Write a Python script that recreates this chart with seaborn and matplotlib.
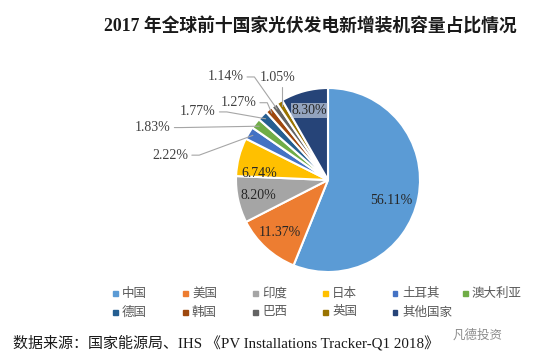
import matplotlib
matplotlib.use("Agg")
import numpy as np
import matplotlib.pyplot as plt
import seaborn as sns
from matplotlib.patches import Rectangle

# data
countries = ["中国", "美国", "印度", "日本", "土耳其", "澳大利亚",
             "德国", "韩国", "巴西", "英国", "其他国家"]
shares = [56.11, 11.37, 8.20, 6.74, 2.22, 1.83, 1.77, 1.27, 1.14, 1.05, 8.30]
colors = ["#5B9BD5", "#ED7D31", "#A5A5A5", "#FFC000", "#4472C4", "#70AD47",
          "#255E91", "#9E480E", "#636363", "#997300", "#264478"]

title = "2017 年全球前十国家光伏发电新增装机容量占比情况"
source = "数据来源：国家能源局、IHS 《PV Installations Tracker-Q1 2018》"

sns.set_theme(style="white")
plt.rcParams["font.family"] = ["Liberation Serif", "Noto Sans CJK SC", "DejaVu Sans"]

W, H = 545, 359
fig = plt.figure(figsize=(W / 100, H / 100), dpi=100)
fig.patch.set_facecolor("white")

# pie placement (pixels)
cx, cy, r = 328, 180, 92
ax = fig.add_axes([(cx - r) / W, (H - cy - r) / H, 2 * r / W, 2 * r / H])
wedges, _ = ax.pie(shares, colors=sns.color_palette(colors), startangle=90,
                   counterclock=False, radius=1,
                   wedgeprops=dict(edgecolor="white", linewidth=1.5))
for w in wedges:
    w.set_clip_on(False)
ax.set_xlim(-1, 1)
ax.set_ylim(-1, 1)
ax.axis("off")

# mid angle of every wedge
frac = np.array(shares) / sum(shares)
cum = np.cumsum(frac) - frac / 2
mid = np.deg2rad(90 - cum * 360)

# labels inside the big wedges (radius, extra vertical shift)
inside = {0: (0.70, -0.09), 1: (0.78, 0.0), 2: (0.78, 0.0),
          3: (0.77, -0.12), 10: (0.78, 0.0)}
for i, (rad, dy) in inside.items():
    x, y = rad * np.cos(mid[i]), rad * np.sin(mid[i]) + dy
    kw = {}
    if i == 10:
        kw["bbox"] = dict(boxstyle="square,pad=0.05", fc="#dde4ee", ec="none", alpha=0.6)
    ax.text(x, y, f"{shares[i]:.2f}%", ha="center", va="center",
            fontsize=10, color="#262626", **kw)

# labels outside the small wedges with leader lines (text anchor in pie units)
outside = {4: (-1.52, 0.27), 5: (-1.71, 0.57), 6: (-1.22, 0.74),
           7: (-0.78, 0.84), 8: (-0.92, 1.12)}
for i, (tx, ty) in outside.items():
    ax.text(tx, ty, f"{shares[i]:.2f}%", ha="right", va="center",
            fontsize=10, color="#404040")
    wx, wy = 0.95 * np.cos(mid[i]), 0.95 * np.sin(mid[i])
    ax.plot([tx + 0.04, tx + 0.12, wx], [ty, ty, wy], color="#a6a6a6",
            lw=0.8, clip_on=False)

# 1.05% label sits above its wedge
tx, ty = -0.55, 1.11
ax.text(tx, ty, f"{shares[9]:.2f}%", ha="center", va="center",
        fontsize=10, color="#404040")
wx, wy = 0.95 * np.cos(mid[9]), 0.95 * np.sin(mid[9])
ax.plot([wx, wx], [ty - 0.1, wy], color="#a6a6a6", lw=0.8, clip_on=False)

# legend, two rows like the original
for i, name in enumerate(countries):
    row, col = divmod(i, 6)
    mx, my = 115 + 70 * col, 293 + 19 * row
    fig.add_artist(Rectangle(((mx - 2.5) / W, (H - my - 2.5) / H), 5 / W, 5 / H,
                             transform=fig.transFigure, color=colors[i]))
    fig.text((mx + 7) / W, (H - my) / H, name, ha="left", va="center",
             fontsize=9, color="#595959", family=["Noto Sans CJK SC"])

fig.text(310 / W, 1 - 27 / H, title, ha="center", va="center",
         fontsize=12.8, fontweight="bold", color="#1a1a1a")
fig.text(13 / W, 1 - 343 / H, source, ha="left", va="center",
         fontsize=10.8, color="#1a1a1a")
fig.text(453 / W, 1 - 335 / H, "凡德投资", ha="left", va="center",
         fontsize=9, color="#8c8c8c", family=["Noto Sans CJK SC"])

fig.savefig("out.png", dpi=100)
